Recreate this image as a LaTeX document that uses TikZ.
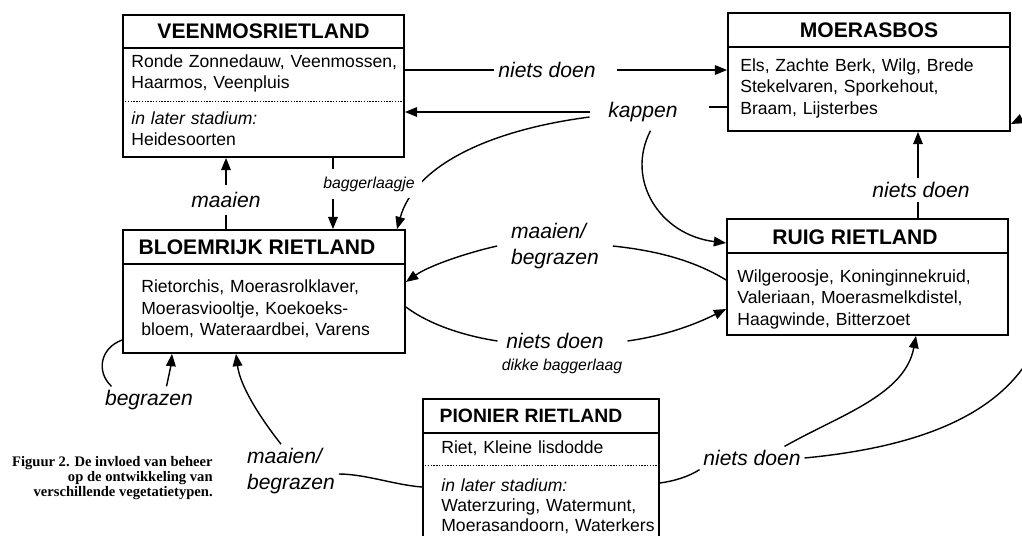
\documentclass[tikz,border=0pt]{standalone}
\usepackage{fontspec}
\setmainfont{Liberation Serif}
\setsansfont{Liberation Sans}
\usetikzlibrary{arrows.meta}

\newcommand{\pxu}{0.02cm}

\begin{document}
\begin{tikzpicture}[x=0.02cm, y=-0.02cm,
  box/.style={draw, line width=1pt, inner sep=0pt},
  boxtitle/.style={font=\sffamily\bfseries\fontsize{12}{14}\selectfont, inner sep=0pt},
  boxtext/.style={font=\sffamily\fontsize{10}{12.2}\selectfont, align=left, inner sep=0pt, anchor=base west, text width=6.2cm},
  act/.style={font=\sffamily\itshape\fontsize{12}{15}\selectfont, inner sep=2pt},
  actsmall/.style={font=\sffamily\itshape\fontsize{9}{10}\selectfont, inner sep=2pt},
  sep/.style={line width=1pt},
  dotsep/.style={line width=0.5pt, dash pattern=on 0.8pt off 0.8pt},
  conn/.style={line width=0.8pt},
  arr/.style={conn, -{Triangle[length=7pt, width=5.5pt]}},
]
  \useasboundingbox (0,0) rectangle (1022,535);
  \clip (0,0) rectangle (1022,535);

  % Vegetation boxes
  \node[box, minimum width=281*\pxu, minimum height=142*\pxu] (veen) at (263.5,86) {};
  \draw[sep] (veen.west |- 0,48) -- (veen.east |- 0,48);
  \draw[dotsep] (veen.west |- 0,101) -- (veen.east |- 0,101);
  \node[boxtitle] (veentitle) at (263.5,31.5) {VEENMOSRIETLAND};
  \node[boxtext] (veenspec) at (131,67.5) {Ronde Zonnedauw, Veenmossen,\\Haarmos, Veenpluis};
  \node[boxtext] (veenlater) at (131,124.5) {\textit{in later stadium:}\\Heidesoorten};

  \node[box, minimum width=282*\pxu, minimum height=118*\pxu] (moer) at (869,72) {};
  \draw[sep] (moer.west |- 0,47) -- (moer.east |- 0,47);
  \node[boxtitle] (moertitle) at (869,30) {MOERASBOS};
  \node[boxtext] (moerspec) at (740,71.5) {Els, Zachte Berk, Wilg, Brede\\Stekelvaren, Sporkehout,\\Braam, Lijsterbes};

  \node[box, minimum width=282*\pxu, minimum height=123*\pxu] (bloem) at (264,291.5) {};
  \draw[sep] (bloem.west |- 0,264) -- (bloem.east |- 0,264);
  \node[boxtitle] (bloemtitle) at (257,247) {BLOEMRIJK RIETLAND};
  \node[boxtext] (bloemspec) at (141,292.6) {Rietorchis, Moerasrolklaver,\\Moerasviooltje, Koekoeks-\\bloem, Wateraardbei, Varens};

  \node[box, minimum width=281*\pxu, minimum height=116*\pxu] (ruig) at (867.5,277) {};
  \draw[sep] (ruig.west |- 0,253) -- (ruig.east |- 0,253);
  \node[boxtitle] (ruigtitle) at (855,237) {RUIG RIETLAND};
  \node[boxtext] (ruigspec) at (737,282.5) {Wilgeroosje, Koninginnekruid,\\Valeriaan, Moerasmelkdistel,\\Haagwinde, Bitterzoet};

  \node[box, minimum width=236*\pxu, minimum height=150*\pxu] (pion) at (541,474) {};
  \draw[sep] (pion.west |- 0,433) -- (pion.east |- 0,433);
  \draw[dotsep] (pion.west |- 0,465) -- (pion.east |- 0,465);
  \node[boxtitle, font=\sffamily\bfseries\fontsize{11}{13}\selectfont] (piontitle) at (531,416) {PIONIER RIETLAND};
  \node[boxtext] (pionspec) at (441,453.5) {Riet, Kleine lisdodde};
  \node[boxtext, font=\sffamily\fontsize{10}{11.5}\selectfont] (pionlater) at (441,491.5) {\textit{in later stadium:}\\Waterzuring, Watermunt,\\Moerasandoorn, Waterkers};

  % Veenmosrietland -> moerasbos
  \node[act] (ndtop) at (547,70) {niets doen};
  \draw[conn] (veen.east |- ndtop) -- (ndtop.west);
  \draw[arr] ([xshift=0.35cm]ndtop.east) -- (moer.west |- ndtop);

  % kappen
  \node[act] (kap) at (643,112) {kappen};
  \draw[conn] ([yshift=0.1cm]moer.west |- kap.east) -- ([xshift=0.55cm, yshift=0.1cm]kap.east);
  \draw[arr] ([xshift=-0.3cm]kap.west) -- (veen.east |- kap.west);
  \draw[arr] ([xshift=-0.3cm, yshift=-0.1cm]kap.west) .. controls (490,130) and (415,165) .. (bloem.north -| 397,0);
  \draw[arr] ([xshift=0.15cm, yshift=-0.1cm]kap.south) .. controls (625,180) and (660,235) .. (ruig.west |- 0,243);

  % baggerlaagje and maaien
  \coordinate (bagline) at (333,0);
  \node[actsmall, fill=white, inner sep=4pt] (bag) at (369,184) {baggerlaagje};
  \draw[conn] (veen.south -| bagline) -- (bag.north -| bagline);
  \draw[arr] (bag.south -| bagline) -- (bloem.north -| bagline);

  \node[act, inner ysep=4pt] (maai) at (226,200) {maaien};
  \draw[conn] (bloem.north -| maai) -- (maai.south);
  \draw[arr] (maai.north) -- (veen.south -| maai);

  % Ruig rietland <-> bloemrijk rietland
  \node[act, align=left] (mbmid) at (555,246) {maaien/\\begrazen};
  \draw[conn] (ruig.west |- 0,280) .. controls (690,258) and (650,250) .. ([xshift=0.2cm]mbmid.east);
  \draw[arr] ([xshift=-0.2cm]mbmid.west) .. controls (470,252) and (430,265) .. (bloem.east |- 0,282);

  \node[act] (ndmid) at (555,341) {niets doen};
  \node[actsmall] (dikke) at (562,366) {dikke baggerlaag};
  \draw[conn] (bloem.east |- 0,307) .. controls (430,325) and (465,336) .. ([xshift=-0.1cm]ndmid.west);
  \draw[arr] ([xshift=0.4cm]ndmid.east) .. controls (670,335) and (700,322) .. (ruig.west |- 0,309);

  % Ruig rietland -> moerasbos
  \coordinate (ndx) at (918,0);
  \node[act] (ndright) at (921,190) {niets doen};
  \draw[conn] (ruig.north -| ndx) -- (ndright.south -| ndx);
  \draw[arr] (ndright.north -| ndx) -- (moer.south -| ndx);

  % begrazen loop
  \node[act] (begl) at (149,400) {begrazen};
  \draw[conn] (bloem.west |- 0,340) .. controls (100,348) and (96,372) .. ([xshift=-0.75cm]begl.north);
  \draw[arr] ([xshift=0.35cm]begl.north) .. controls (169,375) and (171,365) .. (bloem.south -| 172,0);

  % Pionier rietland -> bloemrijk rietland
  \node[act, align=left] (mbbot) at (291,471) {maaien/\\begrazen};
  \draw[arr] ([xshift=-0.2cm]mbbot.north) .. controls (258,415) and (240,385) .. (bloem.south -| 236,0);
  \draw[conn] (pion.west |- 0,487) .. controls (395,485) and (365,474) .. ([yshift=-0.06cm]mbbot.east);

  % Pionier rietland -> ruig rietland and moerasbos
  \node[act] (ndbot) at (752,458) {niets doen};
  \draw[conn] (pion.east |- 0,483) .. controls (675,481) and (690,476) .. (ndbot.south west);
  \draw[arr] ([xshift=-0.4cm]ndbot.north east) .. controls (840,415) and (905,395) .. (ruig.south -| 916,0);
  \draw[arr] (ndbot.east) .. controls (940,445) and (1060,400) .. (1050,260)
        .. controls (1045,150) and (1040,110) .. (moer.east |- 0,124);

  % Caption
  \node[font=\rmfamily\bfseries\fontsize{8.3}{8.6}\selectfont, align=right, inner sep=0pt, anchor=north east] (caption) at (213,456)
    {Figuur 2. De invloed van beheer\\op de ontwikkeling van\\verschillende vegetatietypen.};
\end{tikzpicture}
\end{document}
